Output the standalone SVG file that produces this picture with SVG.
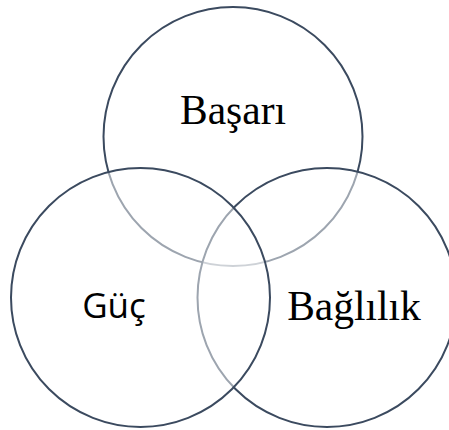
<svg xmlns="http://www.w3.org/2000/svg" width="449" height="430" viewBox="0 0 449 430">
<style>
.c{fill:#ffffff;fill-opacity:0.5;stroke:#3b4a5f;stroke-width:2}
.s{font-family:"Liberation Serif","Times New Roman",serif;font-size:41.5px;fill:#000}
.g{font-family:"Open Sans","Liberation Sans",sans-serif;font-size:35px;fill:#000}
</style>
<rect width="449" height="430" fill="#ffffff"/>
<g id="connectors"></g>
<g id="basari">
<circle class="c" cx="233" cy="136.5" r="129.5"/>
<text class="s" x="233" y="124" text-anchor="middle">Başarı</text>
</g>
<g id="baglilik">
<circle class="c" cx="327" cy="297.5" r="129.5"/>
<text class="s" x="354" y="320" text-anchor="middle">Bağlılık</text>
</g>
<g id="guc">
<circle class="c" cx="140.5" cy="297.5" r="129.5"/>
<text class="g" x="114" y="318" text-anchor="middle">Güç</text>
</g>
</svg>
